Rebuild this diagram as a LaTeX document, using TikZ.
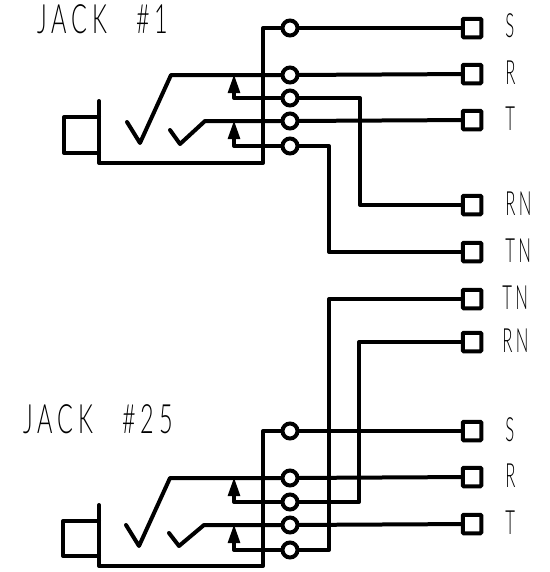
\documentclass[tikz,border=0pt]{standalone}
\usepackage{fontspec}
\usetikzlibrary{arrows.meta}
\newfontfamily\cadfont[LetterSpace=12,FakeStretch=0.58,WordSpace=2.6]{Lato Light}
\newfontfamily\cadtagfont[LetterSpace=10,FakeStretch=0.5]{Lato Light}

\begin{document}
\begin{tikzpicture}[x=0.02cm,y=-0.02cm,
  wire/.style={line width=0.08cm,line join=round,line cap=round},
  pin/.style={circle,draw,fill=white,line width=0.08cm,inner sep=0pt,minimum size=0.3cm},
  pad/.style={rectangle,rounded corners=0.5pt,draw,fill=white,line width=0.08cm,inner sep=0pt,minimum size=0.37cm},
  contact/.style={wire,-{Triangle[length=0.38cm,width=0.23cm]}},
  title/.style={inner sep=0pt,anchor=base west,font=\cadfont\fontsize{23}{23}\selectfont},
  tag/.style={inner sep=0pt,anchor=base west,font=\cadtagfont\fontsize{19}{19}\selectfont}]
\useasboundingbox (0,0) rectangle (550,572);

% jack 1
\node[title] (jackA) at (37,33) {JACK \#1};
\node[pin] (sA) at (290,28) {};
\node[pin] (rA) at (290,75) {};
\node[pin] (rnA) at (290,98) {};
\node[pin] (tA) at (290,121) {};
\node[pin] (tnA) at (290,146) {};
\node[pad] (padSA) at (472,28) {};
\node[pad] (padRA) at (472,74) {};
\node[pad] (padTA) at (472,120) {};
\node[pad] (padRNA) at (472,205) {};
\node[pad] (padTNA) at (472,252) {};
\node[tag] (tagSA) at (505,37) {S};
\node[tag] (tagRA) at (505,84) {R};
\node[tag] (tagTA) at (505,130) {T};
\node[tag] (tagRNA) at (505,215) {RN};
\node[tag] (tagTNA) at (505,262) {TN};

\draw[wire] (sA) -- (padSA);
\draw[wire] (rA) -- (padRA);
\draw[wire] (tA) -- (padTA);
\draw[wire] (rnA) -- (360,98) -- (360,205) -- (padRNA);
\draw[wire] (tnA) -- (329,146) -- (329,252) -- (padTNA);
\draw[wire] (sA) -- (263,28) -- (263,163) -- (99,163) -- (99,101);
\draw[wire] (99,117) -- (64,117) -- (64,153) -- (99,153);
\draw[wire] (127,122) -- (140,143) -- (171,75) -- (rA);
\draw[wire] (170,130) -- (180,144) -- (205,121) -- (tA);
\coordinate (tipRA) at (234,74);
\coordinate (tipTA) at (234,120);
\draw[contact] (rnA) -| (tipRA);
\draw[contact] (tnA) -| (tipTA);

% jack 25
\node[title] (jackB) at (23,433) {JACK \#25};
\node[pin] (sB) at (290,431) {};
\node[pin] (rB) at (290,478) {};
\node[pin] (rnB) at (290,502) {};
\node[pin] (tB) at (290,525) {};
\node[pin] (tnB) at (290,550) {};
\node[pad] (padTNB) at (472,299) {};
\node[pad] (padRNB) at (472,342) {};
\node[pad] (padSB) at (472,431) {};
\node[pad] (padRB) at (472,477) {};
\node[pad] (padTB) at (472,524) {};
\node[tag] (tagTNB) at (502,309) {TN};
\node[tag] (tagRNB) at (502,352) {RN};
\node[tag] (tagSB) at (505,441) {S};
\node[tag] (tagRB) at (505,487) {R};
\node[tag] (tagTB) at (505,534) {T};

\draw[wire] (sB) -- (padSB);
\draw[wire] (rB) -- (padRB);
\draw[wire] (tB) -- (padTB);
\draw[wire] (rnB) -- (359,502) -- (359,342) -- (padRNB);
\draw[wire] (tnB) -- (329,550) -- (329,299) -- (padTNB);
\draw[wire] (sB) -- (263,431) -- (263,566) -- (99,566) -- (99,505);
\draw[wire] (99,521) -- (63,521) -- (63,556) -- (99,556);
\draw[wire] (126,525) -- (139,546) -- (170,478) -- (rB);
\draw[wire] (169,533) -- (179,546) -- (204,525) -- (tB);
\coordinate (tipRB) at (234,477);
\coordinate (tipTB) at (234,524);
\draw[contact] (rnB) -| (tipRB);
\draw[contact] (tnB) -| (tipTB);
\end{tikzpicture}
\end{document}
